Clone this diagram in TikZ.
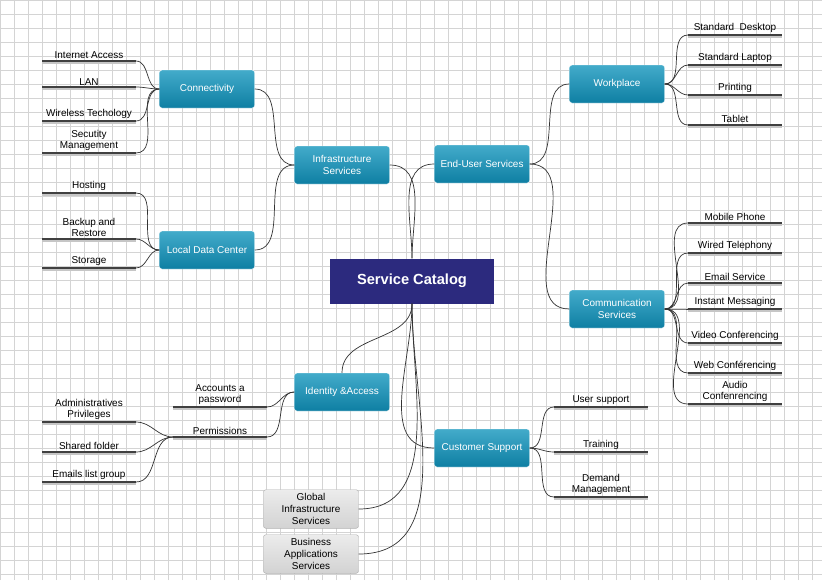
\documentclass[tikz,border=0pt]{standalone}
\usepackage{fontspec}
\setmainfont{Liberation Sans}
\usetikzlibrary{positioning}
\definecolor{topic}{HTML}{1496BD}
\definecolor{topicdark}{HTML}{0E7FA3}
\definecolor{central}{HTML}{2C2A7E}
\definecolor{gridc}{HTML}{D4D4D4}
\tikzset{
  topic/.style={rectangle, rounded corners=2pt, draw=white, top color=topic!80!white, bottom color=topicdark,
    text=white, minimum width=2.85cm, minimum height=1.14cm, align=center, font=\fontsize{8.5}{10}\selectfont},
  grey/.style={topic, top color=gray!15, bottom color=gray!35, draw=gray!60, text=black},
  leaf/.style={anchor=south, align=center, inner sep=1.5pt, minimum width=2.8cm, font=\fontsize{8.5}{10}\selectfont},
  barshadow/.style={line width=1.2pt, gray!45},
  bar/.style={line width=1.6pt, black!75},
  link/.style={black!80, line width=0.6pt}
}
\begin{document}
\begin{tikzpicture}[x=0.03cm, y=-0.03cm]
  \useasboundingbox (0,0) rectangle (822,580);
  \fill[white] (0,0) rectangle (822,580);
  \draw[gridc, line width=0.4pt, step=14*0.03cm] (0,0) grid (822,580);
  % central and main topics
  \node[rectangle, fill=central, text=white, minimum width=4.9cm, minimum height=1.35cm,
        font=\bfseries\fontsize{12.5}{14}\selectfont] (cat) at (412,281) {Service Catalog};
  \node[topic] (infra) at (342,165) {Infrastructure\\Services};
  \node[topic] (user) at (482,164) {End-User Services};
  \node[topic] (conn) at (207,89) {Connectivity};
  \node[topic] (ldc) at (207,250) {Local Data Center};
  \node[topic] (work) at (617,84) {Workplace};
  \node[topic] (comm) at (617,309) {Communication\\Services};
  \node[topic] (ida) at (342,392) {Identity \&Access};
  \node[topic] (cs) at (482,448) {Customer Support};
  \node[grey] (glob) at (311,509) {Global\\Infrastructure\\Services};
  \node[grey] (bas) at (311,554) {Business\\Applications\\Services};
  % leaves
  \node[leaf] (l1) at (89,61) {Internet Access};
  \node[leaf] (l2) at (89,87) {LAN};
  \node[leaf] (l3) at (89,121) {Wireless Techology};
  \node[leaf] (l4) at (89,153) {Secutity\\Management};
  \node[leaf] (h1) at (89,193) {Hosting};
  \node[leaf] (h2) at (89,239) {Backup and\\Restore};
  \node[leaf] (h3) at (89,268) {Storage};
  \node[leaf] (w1) at (735,35) {Standard~~Desktop};
  \node[leaf] (w2) at (735,65) {Standard Laptop};
  \node[leaf] (w3) at (735,95) {Printing};
  \node[leaf] (w4) at (735,125) {Tablet};
  \node[leaf] (c1) at (735,223) {Mobile Phone};
  \node[leaf] (c2) at (735,253) {Wired Telephony};
  \node[leaf] (c3) at (735,283) {Email Service};
  \node[leaf] (c4) at (735,309) {Instant Messaging};
  \node[leaf] (c5) at (735,343) {Video Conferencing};
  \node[leaf] (c6) at (735,373) {Web Conférencing};
  \node[leaf] (c7) at (735,404) {Audio\\Confenrencing};
  \node[leaf] (s1) at (601,407) {User support};
  \node[leaf] (s2) at (601,452) {Training};
  \node[leaf] (s3) at (601,497) {Demand\\Management};
  \node[leaf] (a1) at (220,407) {Accounts a\\password};
  \node[leaf] (a2) at (220,437) {Permissions};
  \node[leaf] (p1) at (89,422) {Administratives\\Privileges};
  \node[leaf] (p2) at (89,452) {Shared folder};
  \node[leaf] (p3) at (89,482) {Emails list group};
  % underlines
  \foreach \l in {l1,l2,l3,l4,h1,h2,h3,w1,w2,w3,w4,c1,c2,c3,c4,c5,c6,c7,s1,s2,s3,a1,a2,p1,p2,p3}{
    \draw[barshadow] ([yshift=-1.6pt]\l.south west) -- ([yshift=-1.6pt]\l.south east);
    \draw[bar] (\l.south west) -- (\l.south east);
  }
  % links
  \draw[link] (cat.north) to[out=90,in=0] (infra.east);
  \draw[link] (cat.north) to[out=90,in=180] (user.west);
  \draw[link] (cat.south) to[out=-90,in=180] (cs.west);
  \draw[link] (cat.south) to[out=-90,in=0] (glob.east);
  \draw[link] (cat.south) to[out=-90,in=0] (bas.east);
  \draw[link] (cat.south) to[out=-90,in=90] (ida.north);
  \draw[link] (infra.west) to[out=180,in=0] (conn.east);
  \draw[link] (infra.west) to[out=180,in=0] (ldc.east);
  \draw[link] (user.east) to[out=0,in=180] (work.west);
  \draw[link] (user.east) to[out=0,in=180] (comm.west);
  \foreach \l in {l1,l2,l3,l4} \draw[link] (\l.south east) to[out=0,in=180] (conn.west);
  \foreach \l in {h1,h2,h3} \draw[link] (\l.south east) to[out=0,in=180] (ldc.west);
  \foreach \l in {w1,w2,w3,w4} \draw[link] (work.east) to[out=0,in=180] (\l.south west);
  \foreach \l in {c1,c2,c3,c4,c5,c6,c7} \draw[link] (comm.east) to[out=0,in=180] (\l.south west);
  \foreach \l in {s1,s2,s3} \draw[link] (cs.east) to[out=0,in=180] (\l.south west);
  \foreach \l in {a1,a2} \draw[link] (\l.south east) to[out=0,in=180] (ida.west);
  \foreach \l in {p1,p2,p3} \draw[link] (\l.south east) to[out=0,in=180] (a2.south west);
\end{tikzpicture}
\end{document}
